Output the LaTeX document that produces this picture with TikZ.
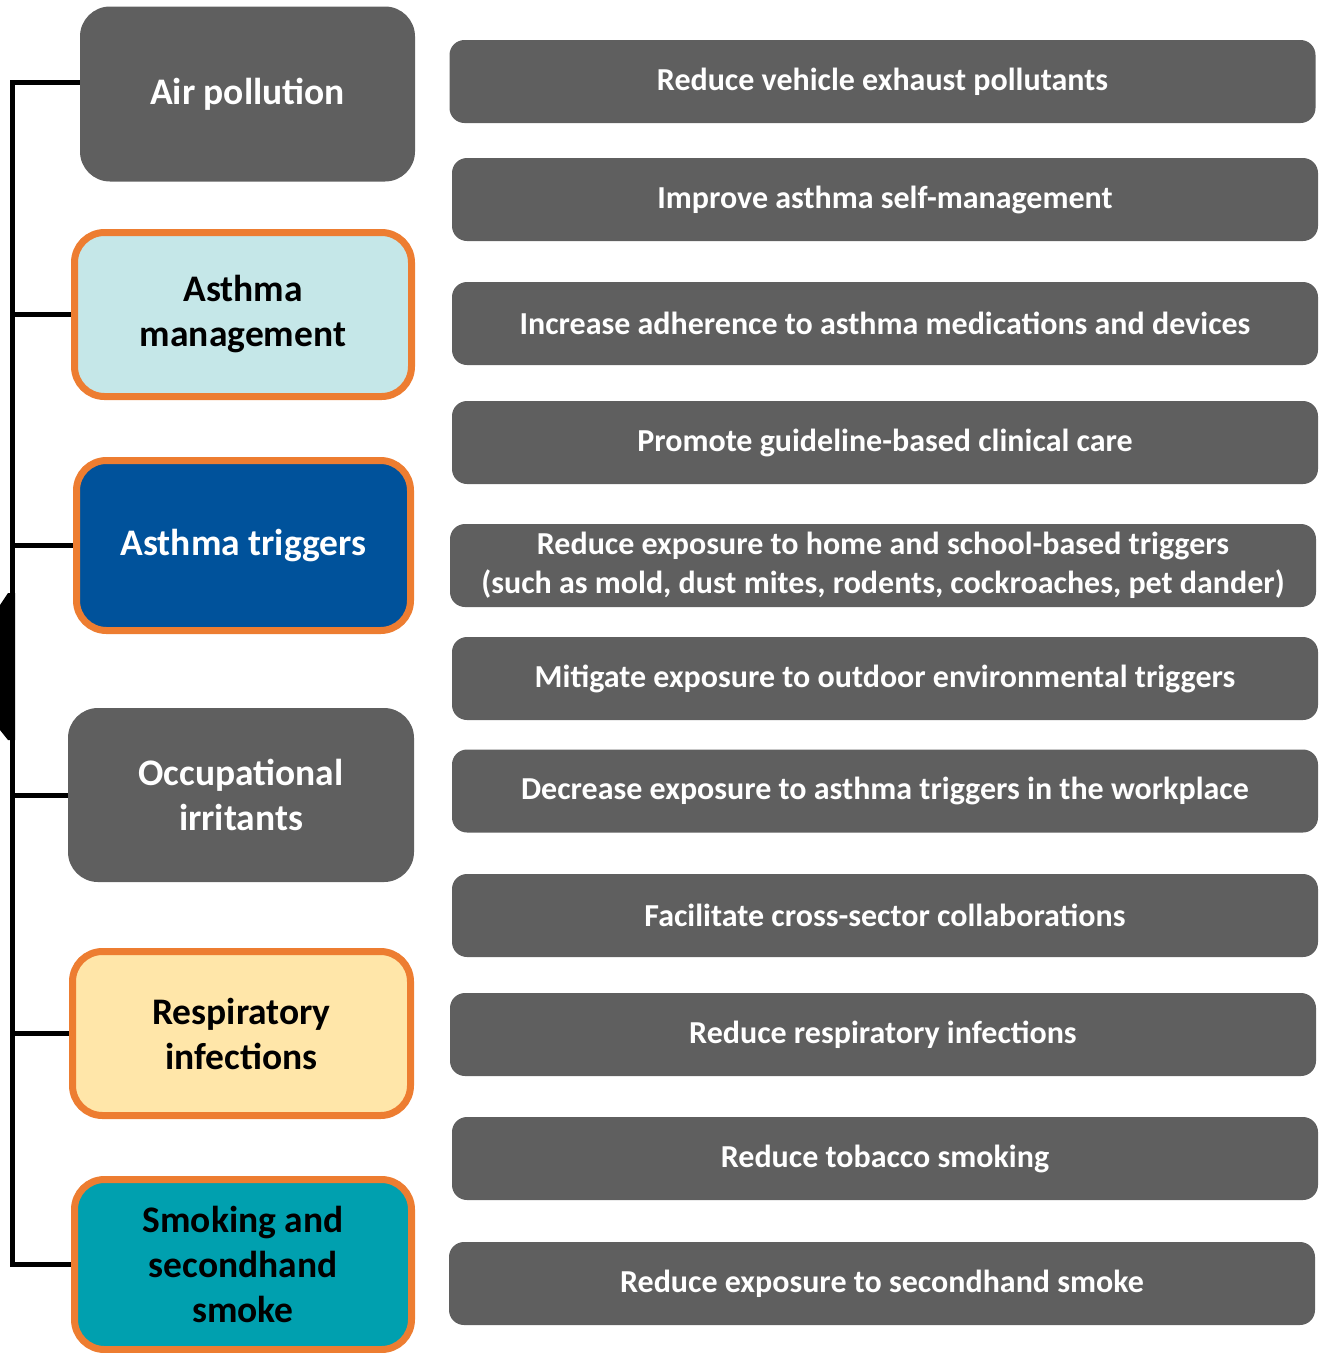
\documentclass[tikz,border=0pt]{standalone}
\usepackage{fontspec}
\setmainfont{Carlito}
\usetikzlibrary{backgrounds}

\definecolor{boxgray}{HTML}{5F5F5F}
\definecolor{edgeorange}{HTML}{ED7D31}
\definecolor{paleblue}{HTML}{C5E7E8}
\definecolor{deepblue}{HTML}{00529B}
\definecolor{paleyellow}{HTML}{FFE6A9}
\definecolor{teal}{HTML}{00A0AF}

\begin{document}
\begin{tikzpicture}[
  x=1pt, y=-1pt,
  factor/.style={rounded corners=30pt, fill=boxgray, text=white, align=center,
    inner sep=0pt, font=\fontsize{37.5}{45}\selectfont\bfseries},
  framed/.style={draw=edgeorange, line width=7pt, text=black},
  action/.style={rounded corners=15pt, fill=boxgray, text=white, align=center,
    inner sep=0pt, minimum width=866pt, minimum height=83pt,
    font=\fontsize{32}{39}\selectfont\bfseries},
  branch/.style={draw, line width=5pt}
]
\useasboundingbox (0,0) rectangle (1321,1353);

% risk factors
\node[factor, minimum width=335pt, minimum height=175pt] (air) at (247.5,94) {Air pollution};
\node[factor, framed, fill=paleblue, minimum width=337pt, minimum height=164pt] (mgmt) at (243,314.5) {Asthma\\management};
\node[factor, framed, fill=deepblue, text=white, minimum width=334pt, minimum height=170pt] (trig) at (243.5,545.5) {Asthma triggers};
\node[factor, minimum width=346pt, minimum height=174pt] (occ) at (241,795) {Occupational\\irritants};
\node[factor, framed, fill=paleyellow, minimum width=338pt, minimum height=164pt] (resp) at (241.5,1033.5) {Respiratory\\infections};
\node[factor, framed, fill=teal, minimum width=337pt, minimum height=170pt] (smoke) at (243,1264.5) {Smoking and\\secondhand\\smoke};

% strategies
\node[action] (exhaust) at (882.5,81.5) {Reduce vehicle exhaust pollutants};
\node[action] (selfmgmt) at (885,199.5) {Improve asthma self-management};
\node[action] (adhere) at (885,323.5) {Increase adherence to asthma medications and devices};
\node[action] (guide) at (885,442.5) {Promote guideline-based clinical care};
\node[action] (home) at (883,565.5) {Reduce exposure to home and school-based triggers\\(such as mold, dust mites, rodents, cockroaches, pet dander)};
\node[action] (outdoor) at (885,678.5) {Mitigate exposure to outdoor environmental triggers};
\node[action] (work) at (885,791) {Decrease exposure to asthma triggers in the workplace};
\node[action] (collab) at (885,915.5) {Facilitate cross-sector collaborations};
\node[action] (infect) at (883,1034.5) {Reduce respiratory infections};
\node[action] (tobacco) at (885,1158.5) {Reduce tobacco smoking};
\node[action] (shs) at (882,1283.5) {Reduce exposure to secondhand smoke};

% bracket
\coordinate (spine) at (12.5,0);
\begin{scope}[on background layer]
  \fill (0,605) -- (8,593) -- (15,593) -- (15,740) -- (8,740) -- (0,730) -- cycle;
  \draw[branch] ([yshift=12pt]air.west) -| (spine |- smoke.west) -- (smoke.west);
  \draw[branch] (mgmt.west) -- (spine |- mgmt.west);
  \draw[branch] (trig.west) -- (spine |- trig.west);
  \draw[branch] (occ.west) -- (spine |- occ.west);
  \draw[branch] (resp.west) -- (spine |- resp.west);
\end{scope}
\end{tikzpicture}
\end{document}
